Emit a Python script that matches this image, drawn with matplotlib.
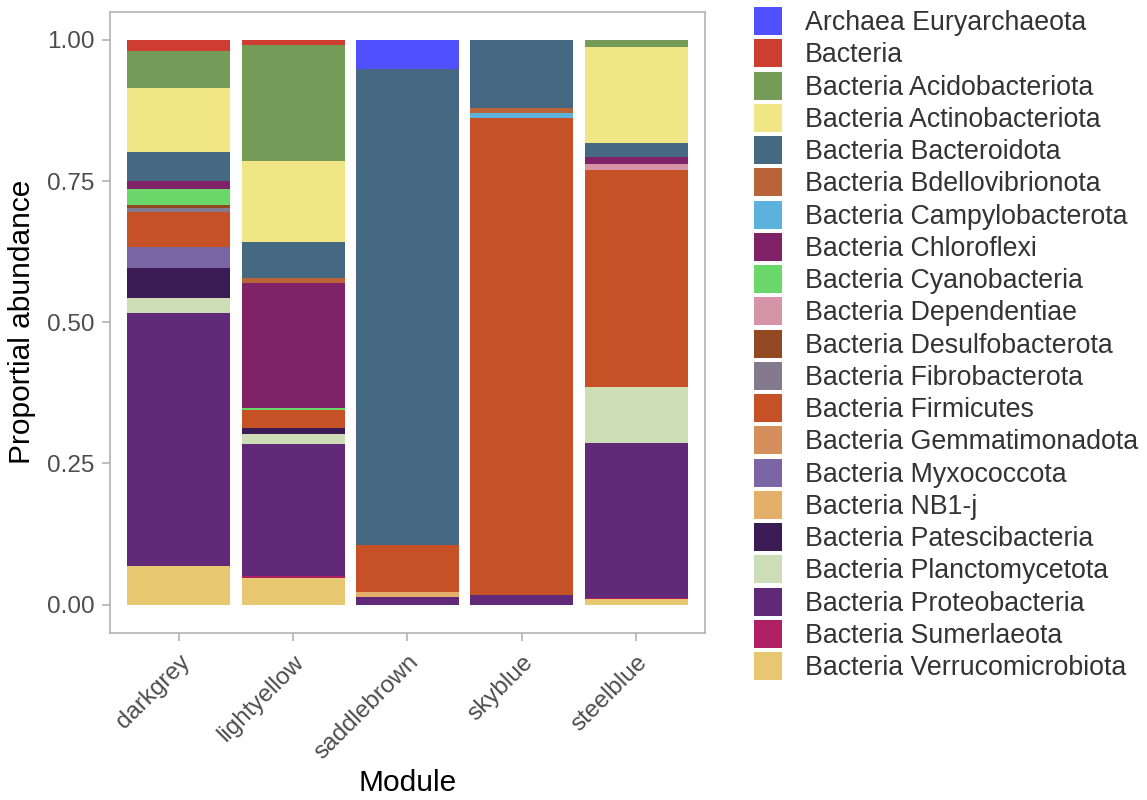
import matplotlib
matplotlib.use("Agg")
import matplotlib.pyplot as plt
from matplotlib.patches import Patch
import numpy as np

plt.rcParams['font.family'] = ['Liberation Sans', 'DejaVu Sans']

modules = ["darkgrey", "lightyellow", "saddlebrown", "skyblue", "steelblue"]

taxa = [
    "Archaea Euryarchaeota", "Bacteria", "Bacteria Acidobacteriota",
    "Bacteria Actinobacteriota", "Bacteria Bacteroidota",
    "Bacteria Bdellovibrionota", "Bacteria Campylobacterota",
    "Bacteria Chloroflexi", "Bacteria Cyanobacteria", "Bacteria Dependentiae",
    "Bacteria Desulfobacterota", "Bacteria Fibrobacterota",
    "Bacteria Firmicutes", "Bacteria Gemmatimonadota", "Bacteria Myxococcota",
    "Bacteria NB1-j", "Bacteria Patescibacteria", "Bacteria Planctomycetota",
    "Bacteria Proteobacteria", "Bacteria Sumerlaeota",
    "Bacteria Verrucomicrobiota",
]

# igv palette
colors = [
    "#5050FF", "#CE3D32", "#749B58", "#F0E685", "#466983", "#BA6338",
    "#5DB1DD", "#802268", "#6BD76B", "#D595A7", "#924822", "#837B8D",
    "#C75127", "#D58F5C", "#7A65A5", "#E4AF69", "#3B1B53", "#CDDEB7",
    "#612A79", "#AE1F63", "#E7C76F",
]

# proportional abundance per module, same order as taxa
darkgrey = [0, 0.020, 0.065, 0.114, 0.051, 0, 0, 0.015, 0.028, 0, 0.004,
            0.008, 0.061, 0, 0.038, 0, 0.053, 0.026, 0.448, 0.001, 0.068]
lightyellow = [0, 0.010, 0.205, 0.143, 0.064, 0.008, 0, 0.222, 0.003, 0, 0,
               0, 0.033, 0, 0, 0, 0.010, 0.018, 0.234, 0.002, 0.048]
saddlebrown = [0.052, 0, 0, 0, 0.842, 0, 0, 0, 0, 0, 0,
               0, 0.083, 0, 0, 0.009, 0, 0, 0.014, 0, 0]
skyblue = [0, 0, 0, 0, 0.121, 0.009, 0.008, 0, 0, 0, 0,
           0, 0.845, 0, 0, 0, 0, 0, 0.017, 0, 0]
steelblue = [0, 0, 0.012, 0.170, 0.026, 0, 0, 0.012, 0, 0.011, 0,
             0, 0.383, 0, 0, 0, 0, 0.099, 0.276, 0.001, 0.010]

abund = np.array([darkgrey, lightyellow, saddlebrown, skyblue, steelblue]).T

fig = plt.figure(figsize=(11.47, 8.0), dpi=100)
ax = fig.add_axes([0.0959, 0.2088, 0.5187, 0.7768])

x = np.arange(1, len(modules) + 1)
# first taxon sits on top of the stack
bottom = np.zeros(len(modules))
for i in range(len(taxa) - 1, -1, -1):
    ax.bar(x, abund[i], bottom=bottom, width=0.9, color=colors[i],
           linewidth=0)
    bottom += abund[i]

ax.set_xlim(0.4, 5.6)
ax.set_ylim(-0.05, 1.05)
ax.set_yticks([0, 0.25, 0.5, 0.75, 1.0])
ax.set_yticklabels(["0.00", "0.25", "0.50", "0.75", "1.00"])
ax.set_xticks(x)
ax.set_xticklabels(modules, rotation=45, ha="right", va="top",
                   rotation_mode="anchor")

for s in ax.spines.values():
    s.set_color("#B3B3B3")
    s.set_linewidth(1.2)
ax.tick_params(colors="#B3B3B3", labelcolor="#4D4D4D", length=6, width=1.2)
ax.tick_params(axis="y", labelsize=17.5, pad=5)
ax.tick_params(axis="x", labelsize=17.5, pad=7)

ax.set_xlabel("Module", fontsize=21.5, color="black", labelpad=4)
ax.set_ylabel("Proportial abundance", fontsize=21.5, color="black", labelpad=8)

handles = [Patch(facecolor=c, edgecolor="none") for c in colors]
fig.legend(handles, taxa, loc="upper left", bbox_to_anchor=(0.657, 0.991),
           frameon=False, fontsize=19.3, labelcolor="#333333",
           handlelength=1.05, handleheight=1.23, handletextpad=0.85,
           labelspacing=0.12, borderpad=0, borderaxespad=0)

fig.savefig("out.png", dpi=100)
